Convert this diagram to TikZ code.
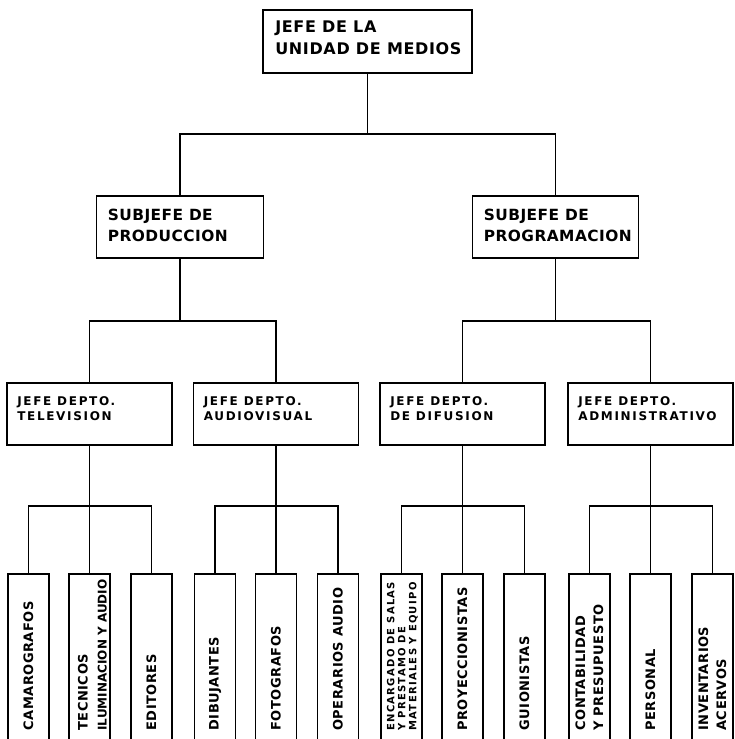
\documentclass[tikz,border=0pt]{standalone}
\usepackage{fontspec}
\newfontfamily\fA{DejaVu Sans}[LetterSpace=4]
\newfontfamily\fB{DejaVu Sans}[LetterSpace=3]
\newfontfamily\fC{DejaVu Sans}[LetterSpace=14]
\newfontfamily\fD{DejaVu Sans}[LetterSpace=4]
\newfontfamily\fF{DejaVu Sans}[LetterSpace=0]
\newfontfamily\fE{DejaVu Sans}[LetterSpace=13]
\tikzset{
  box/.style={draw, line width=1.8pt, rectangle, inner sep=0pt},
  conn/.style={line width=1.3pt},
  txt/.style={inner sep=0pt, anchor=north west, align=left},
  leafbox/.style={draw, line width=1.8pt, rectangle, inner sep=0pt, minimum width=41pt, minimum height=173pt, anchor=north},
  leaftxt/.style={rotate=90, anchor=west, inner sep=0pt, align=left, font={\fD\bfseries\fontsize{13}{18}\selectfont}},
  lvlbox/.style={box, minimum width=165pt, minimum height=62pt},
}
\begin{document}
\begin{tikzpicture}[x=1pt,y=1pt]
\useasboundingbox (0,0) rectangle (734,-739);
\clip (0,0) rectangle (734,-739);
\fill[white] (0,0) rectangle (734,-739);
% level 1
\node[box, minimum width=209pt, minimum height=63pt] (top) at (367.5,-41.5) {};
\node[txt, font={\fA\bfseries\fontsize{16}{22}\selectfont}] (topT) at ([xshift=13pt,yshift=-12pt]top.north west) {JEFE DE LA\\UNIDAD DE MEDIOS};
% level 2
\node[box, minimum width=167pt, minimum height=62pt] (sp) at (180,-227) {};
\node[box, minimum width=166pt, minimum height=62pt] (sg) at (555.5,-227) {};
\node[txt, font={\fB\bfseries\fontsize{15.4}{21}\selectfont}] (spT) at ([xshift=12pt,yshift=-14pt]sp.north west) {SUBJEFE DE\\PRODUCCION};
\node[txt, font={\fB\bfseries\fontsize{15.4}{21}\selectfont}] (sgT) at ([xshift=12pt,yshift=-14pt]sg.north west) {SUBJEFE DE\\PROGRAMACION};
% level 3
\node[lvlbox] (tv) at (89.5,-414) {};
\node[lvlbox] (av) at (276,-414) {};
\node[lvlbox] (df) at (462.5,-414) {};
\node[lvlbox] (ad) at (650.5,-414) {};
\foreach \n/\t in {tv/{JEFE DEPTO.\\TELEVISION}, av/{JEFE DEPTO.\\AUDIOVISUAL}, df/{JEFE DEPTO.\\DE DIFUSION}, ad/{JEFE DEPTO.\\ADMINISTRATIVO}}{
  \node[txt, font={\fC\bfseries\fontsize{12}{15}\selectfont}] (\n T) at ([xshift=11pt,yshift=-14pt]\n.north west) {\t};
}
% leaves
\foreach \p/\a/\b/\c in {tv/cam/tec/edi, av/dib/fot/ope, df/enc/pro/gui, ad/con/per/inv}{
  \node[leafbox] (\a) at ([xshift=-61pt]\p.south |- 0,-573) {};
  \node[leafbox] (\b) at (\p.south |- 0,-573) {};
  \node[leafbox] (\c) at ([xshift=62pt]\p.south |- 0,-573) {};
  \coordinate (k\p) at (\p.south |- 0,-506);
  \draw[conn] (\p.south) -- (k\p);
  \draw[conn] (\a.north) |- (k\p) -| (\c.north);
  \draw[conn] (k\p) -- (\b.north);
}
\node[leaftxt] (camT) at ([yshift=17pt]cam.south) {CAMAROGRAFOS};
\node[leaftxt, font={\fD\bfseries\fontsize{13}{19}\selectfont}] (tecT) at ([xshift=3pt,yshift=17pt]tec.south) {TECNICOS\\{\fF\bfseries\fontsize{12}{19}\selectfont ILUMINACION Y AUDIO}};
\node[leaftxt] (ediT) at ([yshift=17pt]edi.south) {EDITORES};
\node[leaftxt] (dibT) at ([yshift=17pt]dib.south) {DIBUJANTES};
\node[leaftxt] (fotT) at ([yshift=17pt]fot.south) {FOTOGRAFOS};
\node[leaftxt] (opeT) at ([yshift=17pt]ope.south) {OPERARIOS AUDIO};
\node[leaftxt, font={\fE\bfseries\fontsize{10}{11}\selectfont}] (encT) at ([xshift=1pt,yshift=17pt]enc.south) {ENCARGADO DE SALAS\\Y PRESTAMO DE\\MATERIALES Y EQUIPO};
\node[leaftxt] (proT) at ([yshift=17pt]pro.south) {PROYECCIONISTAS};
\node[leaftxt] (guiT) at ([yshift=17pt]gui.south) {GUIONISTAS};
\node[leaftxt] (conT) at ([yshift=17pt]con.south) {CONTABILIDAD\\Y PRESUPUESTO};
\node[leaftxt] (perT) at ([yshift=17pt]per.south) {PERSONAL};
\node[leaftxt] (invT) at ([yshift=17pt]inv.south) {INVENTARIOS\\ACERVOS};
% connectors upper levels
\coordinate (j1) at (top.south |- 0,-134);
\draw[conn] (top.south) -- (j1);
\draw[conn] (sp.north) |- (j1) -| (sg.north);
\coordinate (j2) at (sp.south |- 0,-321);
\draw[conn] (sp.south) -- (j2);
\draw[conn] (tv.north) |- (j2) -| (av.north);
\coordinate (j3) at (sg.south |- 0,-321);
\draw[conn] (sg.south) -- (j3);
\draw[conn] (df.north) |- (j3) -| (ad.north);
\end{tikzpicture}
\end{document}
